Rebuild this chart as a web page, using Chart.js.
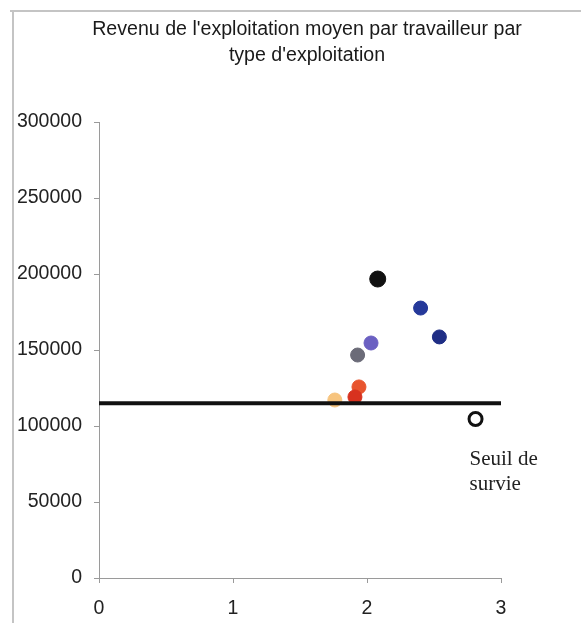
<!DOCTYPE html>
<html>
<head>
<meta charset="utf-8">
<script src="https://cdn.jsdelivr.net/npm/chart.js@4/dist/chart.umd.min.js"></script>
<style>
  html, body { margin: 0; padding: 0; background: #fff; }
  #wrap { width: 581px; height: 623px; position: relative; }
</style>
</head>
<body>
<div id="wrap"><canvas id="c" width="581" height="623"></canvas></div>
<script>
// Exploitation types: workers index (x) and mean income per worker (y)
const typeX = [2.08, 2.40, 2.54, 2.03, 1.93, 1.94, 1.91, 1.76];
const typeY = [196700, 177600, 158600, 154600, 146700, 125700, 119100, 117100];
const typeColors = ['#111111', '#25399a', '#1f2e85', '#6b60c2', '#6b6b78', '#e8552e', '#d8321f', '#f7c47e'];

// Survival threshold
const seuilValue = 115000;
const seuilLineX = [0, 3];
const seuilMarker = { x: 2.81, y: 104600 };
const seuilLabel = ['Seuil de', 'survie'];

const titleLines = ["Revenu de l'exploitation moyen par travailleur par", "type d'exploitation"];
const xTicks = [0, 1, 2, 3];
const yTicks = [0, 50000, 100000, 150000, 200000, 250000, 300000];

const framePlugin = {
  id: 'frame',
  beforeDraw(chart) {
    const ctx = chart.ctx;
    ctx.save();
    ctx.fillStyle = '#ffffff';
    ctx.fillRect(0, 0, chart.width, chart.height);
    ctx.strokeStyle = '#c4c4c4';
    ctx.lineWidth = 2;
    ctx.beginPath();
    ctx.moveTo(10, 11);
    ctx.lineTo(chart.width, 11);
    ctx.moveTo(13, 11);
    ctx.lineTo(13, chart.height);
    ctx.stroke();
    ctx.restore();
  }
};

// Two-line title, centred a little right of the plot centre
const titlePlugin = {
  id: 'twoLineTitle',
  afterDraw(chart) {
    const ctx = chart.ctx;
    const area = chart.chartArea;
    const cx = (area.left + area.right) / 2 + 7;
    ctx.save();
    ctx.fillStyle = '#1a1a1a';
    ctx.font = '19.6px Arial, "Liberation Sans", sans-serif';
    ctx.textAlign = 'center';
    ctx.textBaseline = 'middle';
    titleLines.forEach((line, i) => {
      ctx.fillText(line, cx, 30 + i * 26);
    });
    ctx.restore();
  }
};

const seuilLabelPlugin = {
  id: 'seuilLabel',
  afterDatasetsDraw(chart) {
    const meta = chart.getDatasetMeta(1);
    const pt = meta.data[0];
    if (!pt) return;
    const ctx = chart.ctx;
    ctx.save();
    ctx.fillStyle = '#222';
    ctx.font = '21px "Liberation Serif", "Times New Roman", serif';
    ctx.textAlign = 'left';
    ctx.textBaseline = 'middle';
    seuilLabel.forEach((line, i) => {
      ctx.fillText(line, pt.x - 6, pt.y + 40 + i * 25);
    });
    ctx.restore();
  }
};

new Chart(document.getElementById('c'), {
  type: 'scatter',
  data: {
    datasets: [
      {
        type: 'line',
        label: 'seuil',
        data: seuilLineX.map(x => ({ x, y: seuilValue })),
        borderColor: '#111111',
        borderWidth: 4,
        pointRadius: 0,
        fill: false
      },
      {
        label: 'marker',
        data: [seuilMarker],
        pointRadius: 6.5,
        pointBorderWidth: 3,
        pointBackgroundColor: '#ffffff',
        pointBorderColor: '#111111'
      },
      {
        label: 'types',
        data: typeX.map((x, i) => ({ x, y: typeY[i] })),
        pointRadius: typeColors.map((c, i) => i === 0 ? 8 : 7),
        pointBorderWidth: 1,
        pointBackgroundColor: typeColors,
        pointBorderColor: typeColors
      }
    ]
  },
  options: {
    responsive: false,
    animation: false,
    layout: { padding: { left: 0, right: 80, top: 122, bottom: 0 } },
    plugins: {
      legend: { display: false },
      tooltip: { enabled: false },
      title: { display: false }
    },
    scales: {
      x: {
        type: 'linear',
        min: 0,
        max: 3,
        afterBuildTicks: s => { s.ticks = xTicks.map(v => ({ value: v })); },
        afterFit: s => { s.height = 45; },
        ticks: {
          color: '#222',
          padding: 14,
          font: { family: 'Arial, "Liberation Sans", sans-serif', size: 19.5 },
          callback: v => String(v)
        },
        grid: { drawOnChartArea: false, drawTicks: true, tickLength: 5, color: '#9a9a9a' },
        border: { display: true, color: '#9a9a9a', width: 1 }
      },
      y: {
        type: 'linear',
        min: 0,
        max: 300000,
        afterBuildTicks: s => { s.ticks = yTicks.map(v => ({ value: v })); },
        afterFit: s => { s.width = 99; },
        ticks: {
          color: '#222',
          padding: 12,
          font: { family: 'Arial, "Liberation Sans", sans-serif', size: 19.5 },
          callback: v => String(v)
        },
        grid: { drawOnChartArea: false, drawTicks: true, tickLength: 5, color: '#9a9a9a' },
        border: { display: true, color: '#9a9a9a', width: 1 }
      }
    }
  },
  plugins: [framePlugin, titlePlugin, seuilLabelPlugin]
});
</script>
</body>
</html>
